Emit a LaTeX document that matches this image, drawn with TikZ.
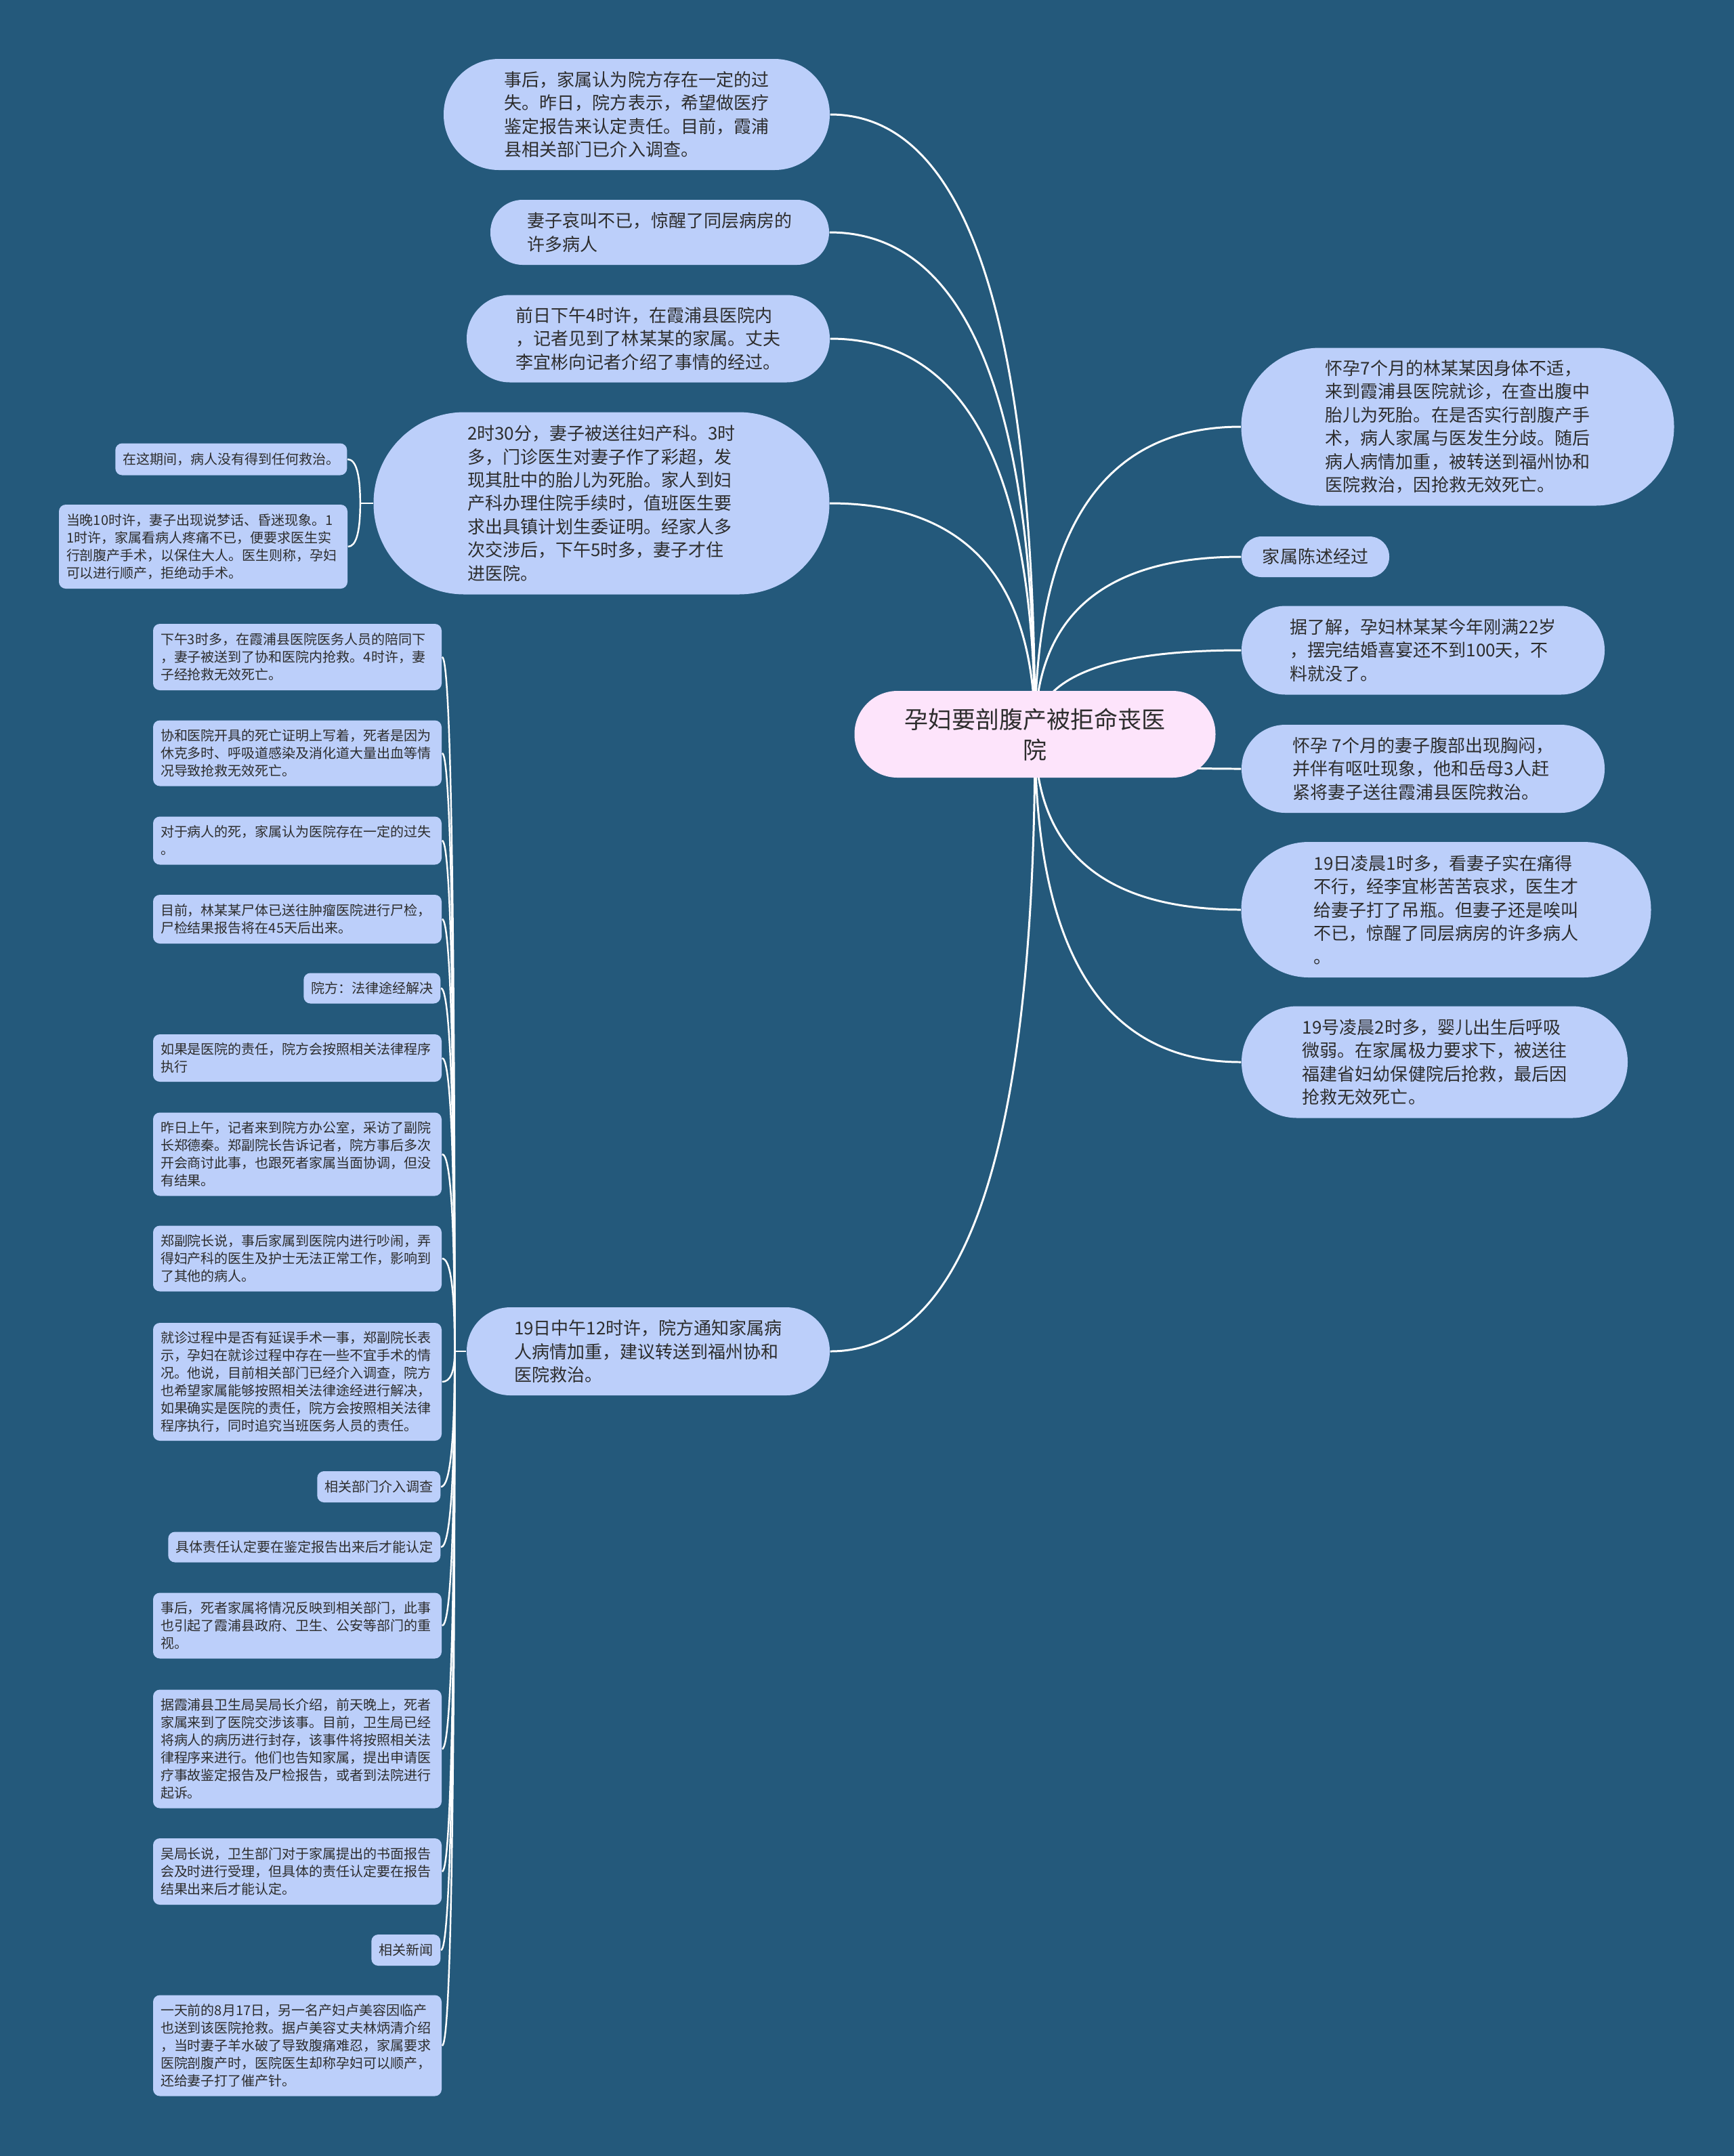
\documentclass[tikz,border=0pt]{standalone}
\definecolor{bgblue}{RGB}{36, 89, 123}
\definecolor{nodeblue}{RGB}{188, 207, 250}
\definecolor{rootpink}{RGB}{253, 228, 251}
\definecolor{textdark}{RGB}{45, 45, 45}
\usepackage{fontspec}
\setmainfont{Noto Sans CJK SC}
\usepackage{tikz}
\usetikzlibrary{positioning, calc}
\pgfdeclarelayer{bg}
\pgfdeclarelayer{links}
\pgfsetlayers{bg,links,main}
\tikzset{
    topicbox/.style={fill=rootpink, text=textdark, align=center, font=\fontsize{9.96pt}{12.8pt}\selectfont, inner sep=0.1cm},
    branchbox/.style={fill=nodeblue, text=textdark, align=left, font=\fontsize{7.4pt}{9.8pt}\selectfont, inner sep=0.05cm},
    leafbox/.style={fill=nodeblue, text=textdark, align=left, rounded corners=0.1cm, font=\fontsize{5.69pt}{7.4pt}\selectfont, inner xsep=0.11cm, inner ysep=0.06cm},
    leafwide/.style={leafbox, text width=4.04cm},
    branchline/.style={draw=white, line width=0.85pt, to path={.. controls ($(\tikztostart)!0.667!(\tikztostart |- \tikztotarget)$) and ($(\tikztotarget)!0.667!(\tikztostart |- \tikztotarget)$) .. (\tikztotarget) \tikztonodes}},
    leafline/.style={branchline, line width=0.7pt},
}
\begin{document}
\begin{tikzpicture}
                \useasboundingbox (0,0) rectangle (25.60,-31.83);
                \begin{pgfonlayer}{bg}
                \fill[bgblue] (0,0) rectangle (25.60,-31.83);
                \end{pgfonlayer}

                % Central topic
                \node[topicbox, minimum width=5.33cm, minimum height=1.28cm, rounded corners=0.635cm] (root) at (15.28,-10.84) {孕妇要剖腹产被拒命丧医\\院};

                % Left branches
                \node[branchbox, minimum width=5.70cm, minimum height=1.64cm, rounded corners=0.815cm] (l1) at (9.40,-1.69) {事后，家属认为院方存在一定的过\\失。昨日，院方表示，希望做医疗\\鉴定报告来认定责任。目前，霞浦\\县相关部门已介入调查。};
                \node[branchbox, minimum width=5.00cm, minimum height=0.96cm, rounded corners=0.475cm] (l2) at (9.74,-3.43) {妻子哀叫不已，惊醒了同层病房的\\许多病人};
                \node[branchbox, minimum width=5.36cm, minimum height=1.29cm, rounded corners=0.64cm] (l3) at (9.57,-5.00) {前日下午4时许，在霞浦县医院内\\，记者见到了林某某的家属。丈夫\\李宜彬向记者介绍了事情的经过。};
                \node[branchbox, minimum width=6.73cm, minimum height=2.69cm, rounded corners=1.34cm] (l4) at (8.88,-7.43) {2时30分，妻子被送往妇产科。3时\\多，门诊医生对妻子作了彩超，发\\现其肚中的胎儿为死胎。家人到妇\\产科办理住院手续时，值班医生要\\求出具镇计划生委证明。经家人多\\次交涉后，下午5时多，妻子才住\\进医院。};
                \node[branchbox, minimum width=5.36cm, minimum height=1.30cm, rounded corners=0.645cm] (l5) at (9.57,-19.95) {19日中午12时许，院方通知家属病\\人病情加重，建议转送到福州协和\\医院救治。};

                % Right branches
                \node[branchbox, minimum width=6.39cm, minimum height=2.33cm, rounded corners=1.16cm] (r1) at (21.52,-6.30) {怀孕7个月的林某某因身体不适，\\来到霞浦县医院就诊，在查出腹中\\胎儿为死胎。在是否实行剖腹产手\\术，病人家属与医发生分歧。随后\\病人病情加重，被转送到福州协和\\医院救治，因抢救无效死亡。};
                \node[branchbox, minimum width=2.18cm, minimum height=0.60cm, rounded corners=0.295cm] (r2) at (19.42,-8.22) {家属陈述经过};
                \node[branchbox, minimum width=5.36cm, minimum height=1.31cm, rounded corners=0.65cm] (r3) at (21.01,-9.60) {据了解，孕妇林某某今年刚满22岁\\，摆完结婚喜宴还不到100天，不\\料就没了。};
                \node[branchbox, minimum width=5.36cm, minimum height=1.30cm, rounded corners=0.645cm] (r4) at (21.01,-11.35) {怀孕 7个月的妻子腹部出现胸闷，\\并伴有呕吐现象，他和岳母3人赶\\紧将妻子送往霞浦县医院救治。};
                \node[branchbox, minimum width=6.05cm, minimum height=2.00cm, rounded corners=0.995cm] (r5) at (21.35,-13.43) {19日凌晨1时多，看妻子实在痛得\\不行，经李宜彬苦苦哀求，医生才\\给妻子打了吊瓶。但妻子还是唉叫\\不已，惊醒了同层病房的许多病人\\。};
                \node[branchbox, minimum width=5.70cm, minimum height=1.65cm, rounded corners=0.82cm] (r6) at (21.18,-15.68) {19号凌晨2时多，婴儿出生后呼吸\\微弱。在家属极力要求下，被送往\\福建省妇幼保健院后抢救，最后因\\抢救无效死亡。};

                % Details of l4
                \node[leafbox, anchor=east, minimum height=0.47cm] (c1) at (5.13,-6.78) {在这期间，病人没有得到任何救治。};
                \node[leafwide, minimum height=1.24cm] (c2) at (3.00,-8.07) {当晚10时许，妻子出现说梦话、昏迷现象。1\\1时许，家属看病人疼痛不已，便要求医生实\\行剖腹产手术，以保住大人。医生则称，孕妇\\可以进行顺产，拒绝动手术。};

                % Details of l5
                \node[leafwide, minimum height=0.98cm] (k1) at (4.39,-9.70) {下午3时多，在霞浦县医院医务人员的陪同下\\，妻子被送到了协和医院内抢救。4时许，妻\\子经抢救无效死亡。};
                \node[leafwide, minimum height=0.97cm] (k2) at (4.39,-11.12) {协和医院开具的死亡证明上写着，死者是因为\\休克多时、呼吸道感染及消化道大量出血等情\\况导致抢救无效死亡。};
                \node[leafwide, minimum height=0.71cm] (k3) at (4.39,-12.41) {对于病人的死，家属认为医院存在一定的过失\\。};
                \node[leafwide, minimum height=0.72cm] (k4) at (4.39,-13.57) {目前，林某某尸体已送往肿瘤医院进行尸检，\\尸检结果报告将在45天后出来。};
                \node[leafbox, anchor=east, minimum height=0.45cm] (k5) at (6.51,-14.59) {院方：法律途经解决};
                \node[leafwide, minimum height=0.70cm] (k6) at (4.39,-15.62) {如果是医院的责任，院方会按照相关法律程序\\执行};
                \node[leafwide, minimum height=1.23cm] (k7) at (4.39,-17.04) {昨日上午，记者来到院方办公室，采访了副院\\长郑德秦。郑副院长告诉记者，院方事后多次\\开会商讨此事，也跟死者家属当面协调，但没\\有结果。};
                \node[leafwide, minimum height=0.97cm] (k8) at (4.39,-18.58) {郑副院长说，事后家属到医院内进行吵闹，弄\\得妇产科的医生及护士无法正常工作，影响到\\了其他的病人。};
                \node[leafwide, minimum height=1.74cm] (k9) at (4.39,-20.40) {就诊过程中是否有延误手术一事，郑副院长表\\示，孕妇在就诊过程中存在一些不宜手术的情\\况。他说，目前相关部门已经介入调查，院方\\也希望家属能够按照相关法律途经进行解决，\\如果确实是医院的责任，院方会按照相关法律\\程序执行，同时追究当班医务人员的责任。};
                \node[leafbox, anchor=east, minimum height=0.46cm] (k10) at (6.51,-21.95) {相关部门介入调查};
                \node[leafbox, anchor=east, minimum height=0.45cm] (k11) at (6.51,-22.84) {具体责任认定要在鉴定报告出来后才能认定};
                \node[leafwide, minimum height=0.97cm] (k12) at (4.39,-24.00) {事后，死者家属将情况反映到相关部门，此事\\也引起了霞浦县政府、卫生、公安等部门的重\\视。};
                \node[leafwide, minimum height=1.75cm] (k13) at (4.39,-25.82) {据霞浦县卫生局吴局长介绍，前天晚上，死者\\家属来到了医院交涉该事。目前，卫生局已经\\将病人的病历进行封存，该事件将按照相关法\\律程序来进行。他们也告知家属，提出申请医\\疗事故鉴定报告及尸检报告，或者到法院进行\\起诉。};
                \node[leafwide, minimum height=0.98cm] (k14) at (4.39,-27.63) {吴局长说，卫生部门对于家属提出的书面报告\\会及时进行受理，但具体的责任认定要在报告\\结果出来后才能认定。};
                \node[leafbox, anchor=east, minimum height=0.46cm] (k15) at (6.51,-28.79) {相关新闻};
                \node[leafwide, minimum height=1.49cm] (k16) at (4.39,-30.20) {一天前的8月17日，另一名产妇卢美容因临产\\也送到该医院抢救。据卢美容丈夫林炳清介绍\\，当时妻子羊水破了导致腹痛难忍，家属要求\\医院剖腹产时，医院医生却称孕妇可以顺产，\\还给妻子打了催产针。};

                % Junctions
                \coordinate[left=0.19cm of l4] (j4);
                \coordinate[left=0.17cm of l5] (j5);

                % Links
                \begin{pgfonlayer}{links}
                \draw[branchline] (root.center) to (l1.east);
                \draw[branchline] (root.center) to (l2.east);
                \draw[branchline] (root.center) to (l3.east);
                \draw[branchline] (root.center) to (l4.east);
                \draw[branchline] (root.center) to (l5.east);
                \draw[branchline] (root.center) to (r1.west);
                \draw[branchline] (root.center) to (r2.west);
                \draw[branchline] (root.center) to (r3.west);
                \draw[branchline] (root.center) to (r4.west);
                \draw[branchline] (root.center) to (r5.west);
                \draw[branchline] (root.center) to (r6.west);

                \draw[leafline] (l4.west) -- (j4);
                \draw[leafline] (j4) to (c1.east);
                \draw[leafline] (j4) to (c2.east);

                \draw[leafline] (l5.west) -- (j5);
                \draw[leafline] (j5) to (k1.east);
                \draw[leafline] (j5) to (k2.east);
                \draw[leafline] (j5) to (k3.east);
                \draw[leafline] (j5) to (k4.east);
                \draw[leafline] (j5) to (k5.east);
                \draw[leafline] (j5) to (k6.east);
                \draw[leafline] (j5) to (k7.east);
                \draw[leafline] (j5) to (k8.east);
                \draw[leafline] (j5) to (k9.east);
                \draw[leafline] (j5) to (k10.east);
                \draw[leafline] (j5) to (k11.east);
                \draw[leafline] (j5) to (k12.east);
                \draw[leafline] (j5) to (k13.east);
                \draw[leafline] (j5) to (k14.east);
                \draw[leafline] (j5) to (k15.east);
                \draw[leafline] (j5) to (k16.east);
                \end{pgfonlayer}
            \end{tikzpicture}
\end{document}
